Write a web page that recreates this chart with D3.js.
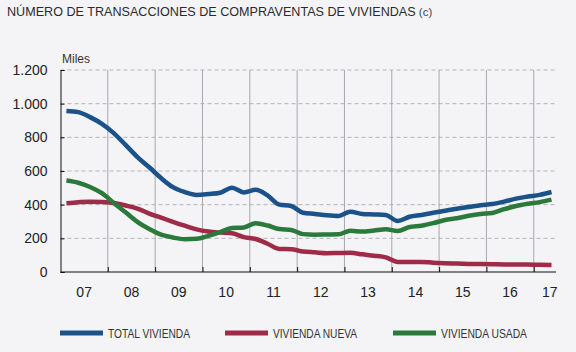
<!DOCTYPE html>
<html>
<head>
<meta charset="utf-8">
<script src="https://cdn.jsdelivr.net/npm/d3@7"></script>
<style>
  html, body { margin: 0; padding: 0; background: #f4f4f7; }
  svg { display: block; }
  text { font-family: "Liberation Sans", Arial, Helvetica, sans-serif; fill: #222; }
</style>
</head>
<body>
<svg id="chart" width="576" height="352"></svg>
<script>
// ---- Data (thousands of transactions, quarterly, annualised) ----
const periods = [
  "2007T1","2007T2","2007T3","2007T4","2008T1","2008T2","2008T3","2008T4",
  "2009T1","2009T2","2009T3","2009T4","2010T1","2010T2","2010T3","2010T4",
  "2011T1","2011T2","2011T3","2011T4","2012T1","2012T2","2012T3","2012T4",
  "2013T1","2013T2","2013T3","2013T4","2014T1","2014T2","2014T3","2014T4",
  "2015T1","2015T2","2015T3","2015T4","2016T1","2016T2","2016T3","2016T4",
  "2017T1","2017T2"
];
const totalVivienda = [
  957, 950, 920, 880, 825, 755, 683, 622, 558, 504, 475, 458, 463, 471, 501, 473,
  488, 455, 400, 392, 352, 345, 337, 333, 358, 345, 342, 338, 303, 328, 339, 352,
  364, 376, 386, 397, 404, 418, 436, 448, 458, 475
];
const viviendaNueva = [
  408, 414, 418, 416, 410, 395, 377, 347, 323, 298, 275, 253, 240, 234, 230, 207,
  196, 168, 137, 135, 122, 117, 112, 113, 114, 105, 97, 87, 60, 59, 60, 55,
  52, 50, 48, 47, 46, 45, 45, 44, 43, 42
];
const viviendaUsada = [
  543, 530, 505, 468, 410, 355, 298, 255, 222, 205, 195, 197, 215, 237, 262, 265,
  290, 276, 255, 250, 225, 222, 223, 224, 245, 240, 247, 254, 244, 267, 275, 290,
  309, 319, 334, 345, 351, 373, 392, 405, 415, 430
];
const yearLabels = ["07","08","09","10","11","12","13","14","15","16","17"];
const yTicks = [0, 200, 400, 600, 800, 1000, 1200];
const seriesNames = ["TOTAL VIVIENDA", "VIVIENDA NUEVA", "VIVIENDA USADA"];
const seriesColors = ["#1b5289", "#9e2b47", "#2b7a3b"];

// ---- Layout ----
const svg = d3.select("#chart");
const pLeft = 60.5, pRight = 556, pTop = 70, pBottom = 272;
const xStart = 2007, xEnd = 2017.47;

const toYear = p => +p.slice(0, 4) + (+p.slice(5) - 1) * 0.25 + 0.125;
const xs = periods.map(toYear);

const x = d3.scaleLinear().domain([xStart, xEnd]).range([pLeft, pRight]);
const y = d3.scaleLinear().domain([0, 1200]).range([pBottom, pTop]);

// Title
const title = svg.append("text").attr("x", 7).attr("y", 16)
  .style("font-size", "12.6px").style("fill", "#2a2a2a");
title.append("tspan").text("NÚMERO DE TRANSACCIONES DE COMPRAVENTAS DE VIVIENDAS");
title.append("tspan").text(" (c)").style("font-size", "11.5px").style("fill", "#444");

// Horizontal dashed grid
svg.append("g").selectAll("line").data(yTicks.filter(d => d > 0)).join("line")
  .attr("x1", pLeft).attr("x2", pRight)
  .attr("y1", d => y(d)).attr("y2", d => y(d))
  .attr("stroke", "#b4b4b8").attr("stroke-width", 1).attr("stroke-dasharray", "4,3");

// Vertical year grid
const yearBounds = d3.range(2008, 2018);
svg.append("g").selectAll("line").data(yearBounds).join("line")
  .attr("x1", d => x(d)).attr("x2", d => x(d))
  .attr("y1", pTop).attr("y2", pBottom)
  .attr("stroke", "#a8a8ac").attr("stroke-width", 1);

// Axes
const yAxis = d3.axisLeft(y).tickValues(yTicks).tickSize(-4).tickPadding(13)
  .tickFormat(d => d3.format(",")(d).replace(",", "."));
const gy = svg.append("g").attr("transform", `translate(${pLeft},0)`).call(yAxis);
gy.select(".domain").attr("stroke", "#111");
gy.selectAll(".tick line").attr("stroke", "#111");
gy.selectAll(".tick text").style("font-size", "14px").style("fill", "#222")
  .attr("font-family", null).attr("x", -13);

const xAxis = d3.axisBottom(x).tickValues(yearBounds).tickSize(-5).tickFormat("");
const gx = svg.append("g").attr("transform", `translate(0,${pBottom})`).call(xAxis);
gx.select(".domain").attr("stroke", "#111").attr("d", `M${pLeft},0H${pRight}`);
gx.selectAll(".tick line").attr("stroke", "#111");

// Year labels centred in each year band
svg.append("g").selectAll("text").data(yearLabels).join("text")
  .attr("x", (d, i) => x(Math.min(xStart + i + 0.5, xEnd - 0.13)))
  .attr("y", 297)
  .attr("text-anchor", "middle")
  .style("font-size", "14px")
  .text(d => d);

// Units label
svg.append("text").attr("x", 62).attr("y", 63)
  .style("font-size", "12px").style("fill", "#333").text("Miles");

// Lines
const line = d3.line().x((d, i) => x(xs[i])).y(d => y(d)).curve(d3.curveMonotoneX);
const allSeries = [totalVivienda, viviendaNueva, viviendaUsada];
[viviendaNueva, viviendaUsada, totalVivienda].forEach(s => {
  const idx = allSeries.indexOf(s);
  svg.append("path").datum(s).attr("d", line)
    .attr("fill", "none").attr("stroke", seriesColors[idx])
    .attr("stroke-width", 4.5).attr("stroke-linejoin", "round");
});

// Legend
const legendX = [60, 225, 393];
const lg = svg.append("g");
seriesNames.forEach((name, i) => {
  lg.append("line").attr("x1", legendX[i]).attr("x2", legendX[i] + 43)
    .attr("y1", 333).attr("y2", 333)
    .attr("stroke", seriesColors[i]).attr("stroke-width", 5);
  const t = lg.append("text").attr("x", legendX[i] + 48).attr("y", 337.5)
    .style("font-size", "12px").style("fill", "#333").text(name);
  t.attr("textLength", [82, 84, 86][i]).attr("lengthAdjust", "spacingAndGlyphs");
});
</script>
</body>
</html>
